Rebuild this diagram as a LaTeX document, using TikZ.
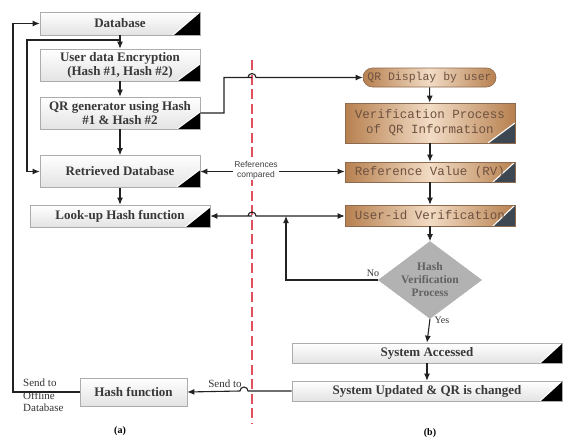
\documentclass[tikz,border=0pt]{standalone}
\usepackage{fontspec}
\setmainfont{Liberation Serif}
\setsansfont{Liberation Sans}
\setmonofont{Liberation Mono}
\usetikzlibrary{arrows.meta,shapes.geometric}
\definecolor{brownedge}{HTML}{B7804F}
\definecolor{browncenter}{HTML}{F2DCC5}
\definecolor{brownborder}{HTML}{8E6A4E}
\definecolor{browntext}{HTML}{6E5140}
\definecolor{slatefold}{HTML}{3D4752}
\definecolor{linegray}{HTML}{222222}
\definecolor{redline}{HTML}{E0505F}
\definecolor{diamondgray}{HTML}{B2B2B2}
\tikzset{
  cornerfold/.style n args={3}{path picture={
    \fill[#1] (path picture bounding box.south east)
      -- ([yshift=#3]path picture bounding box.south east)
      -- ([xshift=-#2]path picture bounding box.south east) -- cycle;
    \draw[white,line width=1.1pt] ([yshift=#3]path picture bounding box.south east)
      -- ([xshift=-#2]path picture bounding box.south east);
  }},
  graybox/.style={rectangle, draw=gray!65, line width=0.6pt, top color=white,
    bottom color=gray!22, text=black!78, align=center, inner sep=0pt,
    font=\fontsize{13}{14}\selectfont\bfseries},
  brownbox/.style={rectangle, draw=brownborder, line width=0.6pt,
    left color=brownedge, right color=brownedge, middle color=browncenter,
    text=browntext, align=center, inner sep=0pt,
    font=\fontsize{12.5}{15}\selectfont\ttfamily},
  flow/.style={draw=linegray, line width=1.1pt},
  arr/.style={flow, -{Latex[length=7pt,width=6pt]}},
  darr/.style={flow, {Latex[length=7pt,width=6pt]}-{Latex[length=7pt,width=6pt]}},
  smalllabel/.style={font=\fontsize{11}{12.5}\selectfont, text=black!80, inner sep=0pt},
}
\newcommand{\hopto}[1]{-- ++(-4pt,0pt) arc[start angle=180,end angle=0,radius=4pt]}
\begin{document}
\begin{tikzpicture}[x=1pt,y=-1pt]
\useasboundingbox[fill=white] (0,0) rectangle (566,442);

% red dashed separator
\coordinate (rtop) at (252,60);
\coordinate (rbot) at (252,424);
\draw[redline, line width=1.6pt, dash pattern=on 10pt off 4.5pt] (rtop) -- (rbot);

% left column
\node[graybox, minimum width=160pt, minimum height=23pt, cornerfold={black}{27pt}{23pt}] (db) at (120,23.5) {Database};
\node[graybox, minimum width=160pt, minimum height=32pt, cornerfold={black}{23pt}{17pt}] (enc) at (120,65) {User data Encryption\\(Hash \#1, Hash \#2)};
\node[graybox, minimum width=160pt, minimum height=32pt, cornerfold={black}{23pt}{17pt}] (qrg) at (120,113) {QR generator using Hash\\\#1 \& Hash \#2};
\node[graybox, minimum width=160pt, minimum height=32pt, cornerfold={black}{24pt}{18pt}] (ret) at (120,171.5) {Retrieved Database};
\node[graybox, minimum width=180pt, minimum height=22pt, cornerfold={black}{25pt}{20pt}] (look) at (120,216) {Look-up Hash function};
\node[graybox, minimum width=107pt, minimum height=28pt] (hashf) at (133.5,392) {Hash function};

% right column
\node[brownbox, rounded corners=9.5pt, minimum width=133pt, minimum height=19pt,
  font=\fontsize{11.5}{13}\selectfont\ttfamily] (qrd) at (429.5,77.5) {QR Display by user};
\node[brownbox, minimum width=170pt, minimum height=40pt, cornerfold={slatefold}{27pt}{20pt}] (ver) at (430,123) {Verification Process\\of QR Information};
\node[brownbox, minimum width=170pt, minimum height=20pt, cornerfold={slatefold}{22pt}{20pt}] (rv) at (430,172) {Reference Value (RV)};
\node[brownbox, minimum width=170pt, minimum height=21pt, cornerfold={slatefold}{22pt}{21pt}] (uid) at (430,215.5) {User-id Verification};
\node[diamond, draw=gray!60, fill=diamondgray, minimum width=91pt, minimum height=68pt,
  inner sep=0pt, aspect=1.34, align=center, text=black!62,
  font=\fontsize{11.5}{13}\selectfont\bfseries] (hv) at (430,280) {Hash\\Verification\\Process};
\node[graybox, minimum width=270pt, minimum height=20pt, cornerfold={black}{22pt}{20pt}] (sysacc) at (427,353) {System Accessed};
\node[graybox, minimum width=270pt, minimum height=20pt, cornerfold={black}{22pt}{20pt}] (sysupd) at (427,391) {System Updated \& QR is changed};

% left flow
\draw[arr] (db) -- (enc);
\draw[arr] (enc) -- (qrg);
\draw[arr] (qrg) -- (ret);
\draw[arr] (ret) -- (look);
\coordinate (b1) at (120,40);
\coordinate (b2) at (27,40);
\draw[arr] (b1) -- (b2) |- (ret.west);
\coordinate (l1) at (13,392);
\draw[arr] (hashf.west) -- (l1) |- (db.west);

% QR generator to QR display
\coordinate (q1) at (224,113);
\coordinate (q2) at (224,77.5);
\coordinate (q3) at (252,77.5);
\draw[arr] (qrg.east) -- (q1) -- (q2) -- (q3) \hopto{} -- (qrd.west);

% references compared
\coordinate (rvl) at (ret.east -| rv.west);
\draw[darr] (ret.east) -- (rvl);
\node[font=\fontsize{8.5}{9.5}\selectfont\sffamily, fill=white, inner sep=1pt, align=center, text=black!75] (refl) at (256,170.5) {References\\compared};

% look-up line
\coordinate (k1) at (252,216);
\coordinate (uidl) at (look.east -| uid.west);
\draw[darr] (look.east) -- (k1) \hopto{} -- (uidl);

% right flow
\draw[arr] (qrd) -- (ver);
\draw[arr] (ver) -- (rv);
\draw[arr] (rv) -- (uid);
\draw[arr] (uid) -- (hv);
\coordinate (n1) at (286,280);
\coordinate (n2) at (286,216);
\draw[arr] (hv.west) -- (n1) -- (n2);
\node[smalllabel, font=\fontsize{10}{12}\selectfont] (nol) at (373,273) {No};
\draw[arr] (hv.south) -- (sysacc.north);
\node[smalllabel, font=\fontsize{10}{12}\selectfont] (yesl) at (442,320) {Yes};
\draw[arr] (sysacc) -- (sysupd);

% send to
\coordinate (s1) at (252,391);
\draw[arr] (sysupd.west) -- ([xshift=-4pt]s1) arc[start angle=0,end angle=180,radius=4pt] -- (hashf.east);
\node[smalllabel] (sendl) at (225,384) {Send to};
\node[smalllabel, anchor=north west, align=left, font=\fontsize{11}{12.5}\selectfont] (offl) at (23,379) {Send to\\Offline\\Database};

% captions
\node[font=\fontsize{10}{12}\selectfont\bfseries] (capa) at (120,431) {(a)};
\node[font=\fontsize{10}{12}\selectfont\bfseries] (capb) at (430,433) {(b)};
\end{tikzpicture}
\end{document}
